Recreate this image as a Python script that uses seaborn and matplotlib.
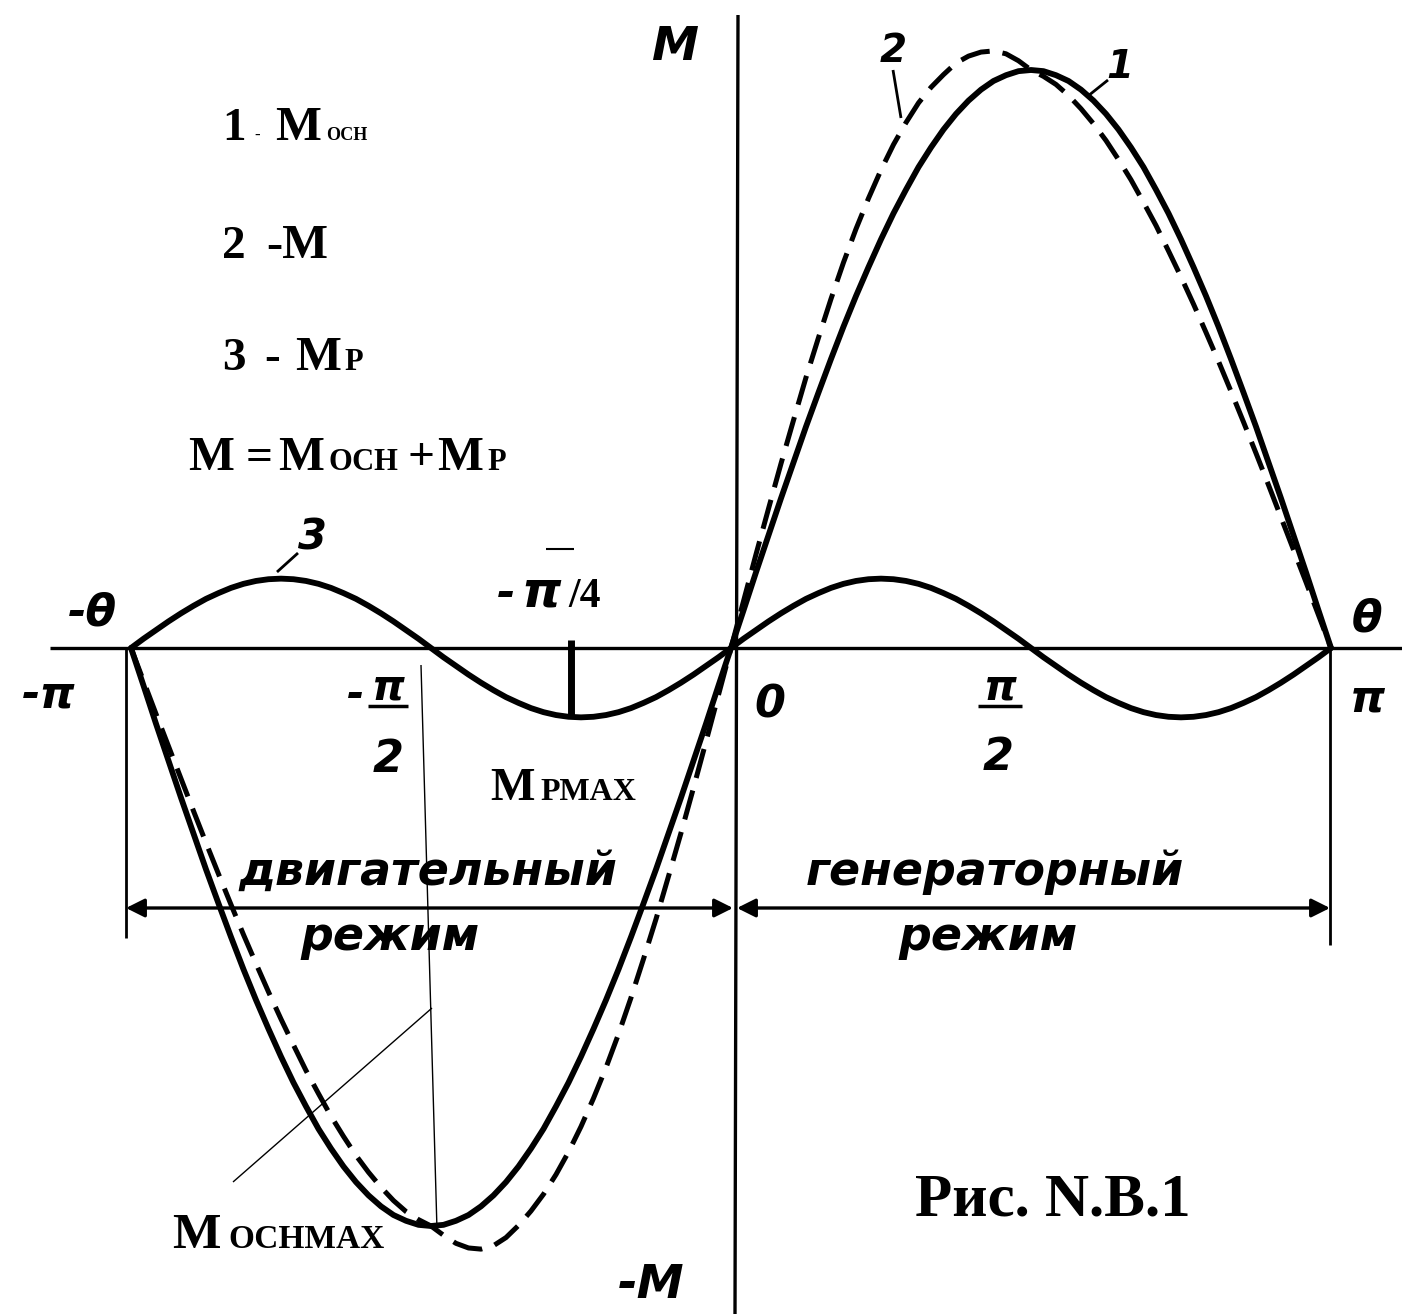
import numpy as np
import matplotlib
matplotlib.use("Agg")
import matplotlib.pyplot as plt
import seaborn as sns

# Load angle samples, in units of pi (step pi/48, from -pi to pi)
theta = np.arange(-48, 49) / 48

# Curve 1: main (excitation) torque M_osn
m_main = [0.000, -0.065, -0.131, -0.195, -0.259, -0.321, -0.383, -0.442, -0.500, -0.556, -0.609, -0.659,
          -0.707, -0.752, -0.793, -0.832, -0.866, -0.897, -0.924, -0.947, -0.966, -0.981, -0.991, -0.998,
          -1.000, -0.998, -0.991, -0.981, -0.966, -0.947, -0.924, -0.897, -0.866, -0.832, -0.793, -0.752,
          -0.707, -0.659, -0.609, -0.556, -0.500, -0.442, -0.383, -0.321, -0.259, -0.195, -0.131, -0.065,
          0.000,
          0.065, 0.131, 0.195, 0.259, 0.321, 0.383, 0.442, 0.500, 0.556, 0.609, 0.659, 0.707,
          0.752, 0.793, 0.832, 0.866, 0.897, 0.924, 0.947, 0.966, 0.981, 0.991, 0.998, 1.000,
          0.998, 0.991, 0.981, 0.966, 0.947, 0.924, 0.897, 0.866, 0.832, 0.793, 0.752, 0.707,
          0.659, 0.609, 0.556, 0.500, 0.442, 0.383, 0.321, 0.259, 0.195, 0.131, 0.065, 0.000]

# Curve 2: resulting torque M = M_osn + M_p
m_total = [0.000, -0.057, -0.114, -0.170, -0.226, -0.282, -0.337, -0.391, -0.444, -0.496, -0.546, -0.595,
           -0.642, -0.687, -0.731, -0.771, -0.810, -0.845, -0.878, -0.907, -0.933, -0.956, -0.975, -0.989,
           -1.000, -1.016, -1.030, -1.038, -1.040, -1.034, -1.020, -0.999, -0.974, -0.945, -0.911, -0.872,
           -0.828, -0.779, -0.726, -0.668, -0.605, -0.538, -0.469, -0.395, -0.320, -0.242, -0.162, -0.081,
           0.000,
           0.081, 0.162, 0.241, 0.319, 0.394, 0.468, 0.537, 0.604, 0.667, 0.725, 0.778, 0.827,
           0.871, 0.909, 0.943, 0.970, 0.992, 1.012, 1.024, 1.031, 1.033, 1.028, 1.016, 1.000,
           0.989, 0.975, 0.956, 0.933, 0.907, 0.878, 0.845, 0.810, 0.771, 0.731, 0.687, 0.642,
           0.595, 0.546, 0.496, 0.444, 0.391, 0.337, 0.282, 0.226, 0.170, 0.114, 0.057, 0.000]

# Curve 3: reluctance torque M_p
m_rel = [0.000, 0.016, 0.031, 0.046, 0.060, 0.073, 0.085, 0.095, 0.104, 0.111, 0.116, 0.119,
         0.120, 0.119, 0.116, 0.111, 0.104, 0.095, 0.085, 0.073, 0.060, 0.046, 0.031, 0.016,
         0.000, -0.016, -0.031, -0.046, -0.060, -0.073, -0.085, -0.095, -0.104, -0.111, -0.116, -0.119,
         -0.120, -0.119, -0.116, -0.111, -0.104, -0.095, -0.085, -0.073, -0.060, -0.046, -0.031, -0.016,
         0.000,
         0.016, 0.031, 0.046, 0.060, 0.073, 0.085, 0.095, 0.104, 0.111, 0.116, 0.119, 0.120,
         0.119, 0.116, 0.111, 0.104, 0.095, 0.085, 0.073, 0.060, 0.046, 0.031, 0.016, 0.000,
         -0.016, -0.031, -0.046, -0.060, -0.073, -0.085, -0.095, -0.104, -0.111, -0.116, -0.119, -0.120,
         -0.119, -0.116, -0.111, -0.104, -0.095, -0.085, -0.073, -0.060, -0.046, -0.031, -0.016, 0.000]

sns.set_theme(style="white")
plt.rcParams["font.family"] = ["DejaVu Sans"]

W, H = 1402, 1314
fig = plt.figure(figsize=(W / 100, H / 100), dpi=100)
fig.patch.set_facecolor("white")
ax = fig.add_axes([0, 0, 1, 1])

# pixel layout of the drawing: origin and scale of the angle/torque axes
X0, XS, Y0, YS = 731, 600, 648, 578
ax.set_xlim(-X0 / XS, (W - X0) / XS)
ax.set_ylim(-(H - Y0) / YS, Y0 / YS)
ax.axis("off")


def d(px, py):
    return (px - X0) / XS, (Y0 - py) / YS


def seg(p, q, lw=1.0, **kw):
    (x1, y1), (x2, y2) = d(*p), d(*q)
    ax.plot([x1, x2], [y1, y2], color="black", lw=lw, solid_capstyle="butt", **kw)


# coordinate axes
seg((50, 648), (1402, 648), lw=2.4)
seg((738, 15), (735, 1314), lw=2.4)

# mode boundaries and arrows
seg((126, 648), (126, 938), lw=2.0)
seg((1330, 648), (1330, 945), lw=2.0)
for a, b in [((126, 908), (733, 908)), ((737, 908), (1330, 908))]:
    ax.annotate("", xy=d(*a), xytext=d(*b),
                arrowprops=dict(arrowstyle="<|-|>", color="black", lw=2.4,
                                mutation_scale=28, shrinkA=0, shrinkB=0))

# the three torque curves
curve_kw = dict(color="black", solid_joinstyle="round", dash_joinstyle="round", ax=ax)
sns.lineplot(x=theta, y=m_main, lw=4.2, **curve_kw)
sns.lineplot(x=theta, y=m_total, lw=3.6, linestyle=(0, (6, 2.6)), **curve_kw)
sns.lineplot(x=theta, y=m_rel, lw=4.2, **curve_kw)

# M_p max marker and guide lines to M_osn max
seg((571, 640), (571, 718), lw=5)
seg((421, 665), (437, 1230), lw=1.0)
seg((432, 1008), (233, 1182), lw=1.0)

# curve labels with leaders
HAND = dict(family="DejaVu Sans", style="italic", weight="bold", color="black")
SERIF = dict(family="Liberation Serif", weight="bold", color="black")


def t(px, py, s, size, kw, ha="left"):
    fig.text(px / W, 1 - py / H, s, fontsize=size, ha=ha, va="baseline", **kw)


t(298, 550, "3", 30, HAND)
seg((277, 572), (298, 553), lw=2.0)
t(880, 62, "2", 28, HAND)
seg((893, 70), (901, 118), lw=2.0)
t(1106, 78, "1", 28, HAND)
seg((1108, 80), (1088, 96), lw=2.0)

# axis labels
t(652, 60, "М", 34, HAND)
t(618, 1298, "-М", 34, HAND)
t(68, 625, "-θ", 32, HAND)
t(22, 708, "-π", 32, HAND)
t(1352, 632, "θ", 32, HAND)
t(1350, 712, "π", 32, HAND)
t(754, 718, "0", 32, HAND)
# -pi/2 and pi/2 as stacked fractions
t(388, 700, "π", 30, HAND, ha="center")
seg((368, 706), (408, 706), lw=2.5)
t(388, 772, "2", 32, HAND, ha="center")
t(347, 707, "-", 30, HAND)
t(1000, 700, "π", 30, HAND, ha="center")
seg((978, 706), (1022, 706), lw=2.5)
t(998, 770, "2", 32, HAND, ha="center")

# mode captions
t(238, 885, "двигательный", 33, HAND)
t(300, 950, "режим", 33, HAND)
t(806, 885, "генераторный", 33, HAND)
t(898, 950, "режим", 33, HAND)

# -pi/4 label
t(497, 607, "-", 32, HAND)
t(521, 607, "π", 36, HAND)
seg((546, 549), (574, 549), lw=1.5)
t(568, 607, "/4", 30, SERIF)

# legend block
t(222, 140, "1", 34, SERIF)
t(254, 140, "-", 12, SERIF)
t(275, 140, "M", 35, SERIF)
t(326, 140, "ОСН", 13, SERIF)

t(222, 258, "2", 34, SERIF)
t(266, 258, "-M", 35, SERIF)

t(222, 370, "3", 34, SERIF)
t(264, 370, "-", 34, SERIF)
t(295, 370, "M", 35, SERIF)
t(344, 370, "Р", 22, SERIF)

t(188, 470, "M", 35, SERIF)
t(246, 470, "=", 34, SERIF)
t(278, 470, "M", 35, SERIF)
t(328, 470, "ОСН", 22, SERIF)
t(408, 470, "+", 34, SERIF)
t(437, 470, "M", 35, SERIF)
t(487, 470, "Р", 22, SERIF)

t(490, 800, "M", 34, SERIF)
t(540, 800, "РMAX", 23, SERIF)

t(172, 1248, "M", 37, SERIF)
t(228, 1248, "ОСНMAX", 24, SERIF)

t(915, 1215, "Рис. N.B.1", 44, SERIF)

fig.savefig("out.png", dpi=100, facecolor="white")
